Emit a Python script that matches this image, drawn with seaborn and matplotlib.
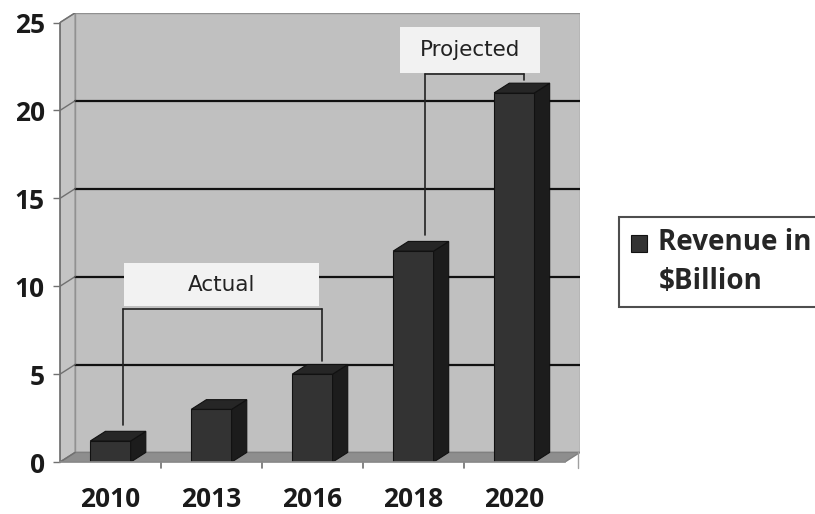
import matplotlib
matplotlib.use("Agg")
import matplotlib.pyplot as plt
from matplotlib.patches import Polygon, Rectangle
import seaborn as sns
import pandas as pd

years = ["2010", "2013", "2016", "2018", "2020"]
revenue = [1.2, 3.0, 5.0, 12.0, 21.0]
series_label = "Revenue in\n$Billion"
y_ticks = [0, 5, 10, 15, 20, 25]
actual_label = "Actual"
projected_label = "Projected"

sns.set_theme(style="white")
plt.rcParams['font.family'] = ['Open Sans', 'DejaVu Sans']

df = pd.DataFrame({"year": years, "revenue": revenue})

fig = plt.figure(figsize=(8.15, 5.14), dpi=100)
ax = fig.add_axes([0.0736, 0.101, 0.638, 0.874])

DX, DY = 0.15, 0.55
x0, x1 = -0.5, 4.5
ytop = 25

# walls
wall = "#c0c0c0"
ax.add_patch(Rectangle((x0 + DX, DY), x1 - x0, ytop, facecolor=wall,
                       edgecolor="#909090", lw=1, zorder=0))
ax.add_patch(Polygon([(x0, 0), (x0 + DX, DY), (x0 + DX, ytop + DY), (x0, ytop)],
                     closed=True, facecolor="#c4c4c4", edgecolor="#909090", lw=1, zorder=0))
ax.add_patch(Polygon([(x0, 0), (x1, 0), (x1 + DX, DY), (x0 + DX, DY)],
                     closed=True, facecolor="#8e8e8e", edgecolor="#808080", lw=1, zorder=0.5))

for v in y_ticks[1:-1]:
    ax.plot([x0 + DX, x1 + DX], [v + DY, v + DY], color="#111111", lw=1.6, zorder=0.6)
for v in y_ticks:
    ax.plot([x0, x0 + DX], [v, v + DY], color="#707070", lw=1.0, zorder=0.6)

sns.barplot(data=df, x="year", y="revenue", color="#333333", width=0.4,
            saturation=1, edgecolor="#111111", linewidth=0.8, ax=ax,
            label=series_label, zorder=2)

for p in list(ax.containers[0]):
    bx, bw, bh = p.get_x(), p.get_width(), p.get_height()
    ax.add_patch(Polygon([(bx + bw, 0), (bx + bw + DX, DY), (bx + bw + DX, bh + DY), (bx + bw, bh)],
                         closed=True, facecolor="#1c1c1c", edgecolor="#111111", lw=0.8, zorder=2))
    ax.add_patch(Polygon([(bx, bh), (bx + DX, bh + DY), (bx + bw + DX, bh + DY), (bx + bw, bh)],
                         closed=True, facecolor="#262626", edgecolor="#111111", lw=0.8, zorder=2))

ax.set_xlim(x0, x1 + DX)
ax.set_ylim(0, ytop + DY)
ax.set_yticks(y_ticks)
ax.set_yticklabels([str(v) for v in y_ticks], fontsize=19, fontweight="bold", color="#1a1a1a")
ax.set_xticks(range(len(years)))
ax.set_xticklabels(years, fontsize=19, fontweight="bold", color="#1a1a1a")
ax.tick_params(axis="x", length=0, pad=17)
ax.tick_params(axis="y", length=5, width=1, color="#707070", pad=6, left=True)
for i in range(1, len(years)):
    ax.plot([i - 0.5, i - 0.5], [0, -0.35], color="#707070", lw=1.2, clip_on=False)
ax.plot([x1 + DX - 0.02, x1 + DX - 0.02], [DY, -0.35], color="#a0a0a0", lw=1, clip_on=False)
ax.set_xlabel("")
ax.set_ylabel("")
for s in ["top", "right"]:
    ax.spines[s].set_visible(False)
ax.spines["left"].set_color("#707070")
ax.spines["left"].set_bounds(0, ytop)
ax.spines["bottom"].set_color("#8a8a8a")
ax.spines["bottom"].set_bounds(x0, x1)

# annotations
def bracket(i_left, i_right, y_line, box_y0, box_y1, box_x0, box_x1, text):
    xl, xr = i_left + 0.12, i_right + 0.1
    ax.add_patch(Rectangle((box_x0, box_y0), box_x1 - box_x0, box_y1 - box_y0,
                           facecolor="#f2f2f2", edgecolor="none", zorder=3))
    ax.text((box_x0 + box_x1) / 2, (box_y0 + box_y1) / 2, text, ha="center", va="center",
            fontsize=15.5, color="#222222", family="DejaVu Sans", zorder=4)
    ax.plot([xl, xr], [y_line, y_line], color="#222222", lw=1.2, zorder=3)
    ax.plot([xl, xl], [y_line, revenue[i_left] + DY + 0.35], color="#222222", lw=1.2, zorder=3)
    ax.plot([xr, xr], [y_line, revenue[i_right] + DY + 0.2], color="#222222", lw=1.2, zorder=3)

bracket(0, 2, 8.7, 8.85, 11.35, 0.13, 2.07, actual_label)
bracket(3, 4, 22.05, 22.15, 24.75, 2.87, 4.25, projected_label)

leg = ax.legend(loc="upper left", bbox_to_anchor=(1.076, 0.545), frameon=True,
                fancybox=False, handlelength=0.6, handleheight=0.6, handletextpad=0.4,
                borderpad=0.4, borderaxespad=0, prop={"size": 20, "weight": "bold"})
leg.get_frame().set_edgecolor("#222222")
leg.get_frame().set_linewidth(1.5)
for t in leg.get_texts():
    t.set_linespacing(1.45)
for hp in leg.get_patches():
    hp.set_y(hp.get_y() + 14.5)

fig.savefig("out.png", dpi=100)
